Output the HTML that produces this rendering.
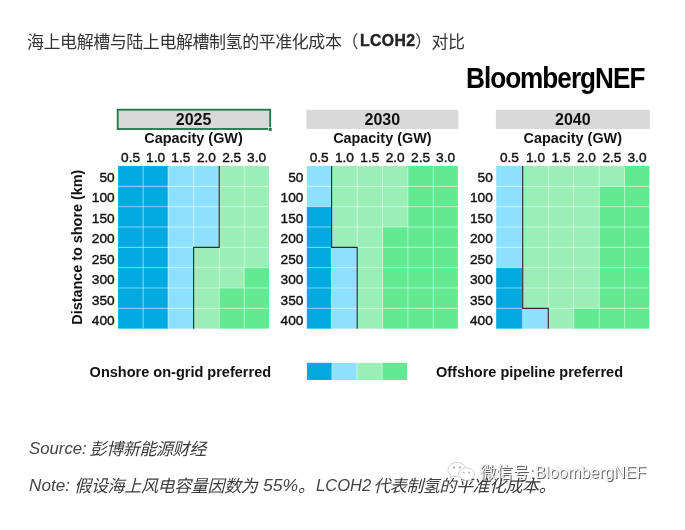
<!DOCTYPE html>
<html lang="zh-CN">
<head>
<meta charset="utf-8">
<title>海上电解槽与陆上电解槽制氢的平准化成本（LCOH2）对比</title>
<style>
html,body{margin:0;padding:0;background:#fff;}
body{width:685px;height:530px;position:relative;overflow:hidden;font-family:"Liberation Sans","Noto Sans CJK SC",sans-serif;}
.title{position:absolute;left:27px;top:30.5px;font-size:17px;line-height:24px;color:#333;white-space:nowrap;letter-spacing:-0.45px;font-family:"Liberation Sans","Noto Sans CJK SC",sans-serif;}
.title b{font-weight:bold;color:#222;font-size:15.8px;letter-spacing:0.35px;margin-left:2.1px;margin-right:-0.4px;-webkit-text-stroke:0.4px #222;position:relative;top:-1.8px;}
.logo{position:absolute;left:465.6px;top:59.5px;font-size:28.7px;line-height:36px;font-weight:bold;color:#000;letter-spacing:-1.1px;white-space:nowrap;transform-origin:0 0;transform:scaleX(0.912);}
svg text{font-family:"Liberation Sans",sans-serif;fill:#111;}
svg .y{font-size:16px;font-weight:bold;}
svg .h{font-size:14.4px;font-weight:bold;}
svg .t{font-size:13.7px;stroke:#111;stroke-width:0.4px;}
svg .lg{font-size:14.5px;font-weight:bold;}
.src{position:absolute;left:29.2px;font-size:17px;line-height:24px;color:#3a3a3a;font-style:italic;white-space:nowrap;letter-spacing:-0.45px;}
.src span{display:inline-block;position:relative;}
.src .l{font-size:15.6px;top:-1.4px;letter-spacing:0;color:#444;transform-origin:0 50%;}
.wm{position:absolute;left:480px;top:461.5px;word-spacing:-3.6px;letter-spacing:0.15px;font-size:16px;line-height:22px;color:#fbfbfb;white-space:nowrap;text-shadow:0.9px 0.9px 0.6px rgba(50,50,50,.8),0 0 1px rgba(90,90,90,.45);font-family:"Liberation Sans","Noto Sans CJK SC",sans-serif;}
.wm .c{font-size:16px;letter-spacing:0.5px;}
.wmi{position:absolute;left:444px;top:458px;}
</style>
</head>
<body>
<div class="title">海上电解槽与陆上电解槽制氢的平准化成本（<b>LCOH2</b>）对比</div>
<div class="logo">BloombergNEF</div>
<svg width="685" height="530" viewBox="0 0 685 530" style="position:absolute;left:0;top:0">
<rect x="117.70" y="109.7" width="152.50" height="19.3" fill="#D9D9D9" stroke="#217346" stroke-width="1.8"/>
<rect x="268.40" y="127.6" width="3.6" height="3.6" fill="#217346" stroke="#fff" stroke-width="0.6"/>
<text x="193.55" y="125.4" class="y" text-anchor="middle">2025</text>
<text x="193.55" y="143.1" class="h" text-anchor="middle">Capacity (GW)</text>
<text x="130.60" y="161.9" class="t" text-anchor="middle">0.5</text>
<text x="155.55" y="161.9" class="t" text-anchor="middle">1.0</text>
<text x="180.80" y="161.9" class="t" text-anchor="middle">1.5</text>
<text x="206.40" y="161.9" class="t" text-anchor="middle">2.0</text>
<text x="231.70" y="161.9" class="t" text-anchor="middle">2.5</text>
<text x="256.60" y="161.9" class="t" text-anchor="middle">3.0</text>
<text x="114.70" y="181.80" class="t" text-anchor="end">50</text>
<text x="114.70" y="202.25" class="t" text-anchor="end">100</text>
<text x="114.70" y="222.70" class="t" text-anchor="end">150</text>
<text x="114.70" y="243.15" class="t" text-anchor="end">200</text>
<text x="114.70" y="263.60" class="t" text-anchor="end">250</text>
<text x="114.70" y="284.05" class="t" text-anchor="end">300</text>
<text x="114.70" y="304.50" class="t" text-anchor="end">350</text>
<text x="114.70" y="324.95" class="t" text-anchor="end">400</text>
<rect x="118.10" y="166.00" width="25.30" height="20.63" fill="#00A9E0"/>
<rect x="143.10" y="166.00" width="25.20" height="20.63" fill="#00A9E0"/>
<rect x="168.00" y="166.00" width="25.90" height="20.63" fill="#8DE1FF"/>
<rect x="193.60" y="166.00" width="25.90" height="20.63" fill="#8DE1FF"/>
<rect x="219.20" y="166.00" width="25.30" height="20.63" fill="#9AEEB6"/>
<rect x="244.20" y="166.00" width="24.80" height="20.63" fill="#9AEEB6"/>
<rect x="118.10" y="186.33" width="25.30" height="20.63" fill="#00A9E0"/>
<rect x="143.10" y="186.33" width="25.20" height="20.63" fill="#00A9E0"/>
<rect x="168.00" y="186.33" width="25.90" height="20.63" fill="#8DE1FF"/>
<rect x="193.60" y="186.33" width="25.90" height="20.63" fill="#8DE1FF"/>
<rect x="219.20" y="186.33" width="25.30" height="20.63" fill="#9AEEB6"/>
<rect x="244.20" y="186.33" width="24.80" height="20.63" fill="#9AEEB6"/>
<rect x="118.10" y="206.66" width="25.30" height="20.63" fill="#00A9E0"/>
<rect x="143.10" y="206.66" width="25.20" height="20.63" fill="#00A9E0"/>
<rect x="168.00" y="206.66" width="25.90" height="20.63" fill="#8DE1FF"/>
<rect x="193.60" y="206.66" width="25.90" height="20.63" fill="#8DE1FF"/>
<rect x="219.20" y="206.66" width="25.30" height="20.63" fill="#9AEEB6"/>
<rect x="244.20" y="206.66" width="24.80" height="20.63" fill="#9AEEB6"/>
<rect x="118.10" y="226.99" width="25.30" height="20.63" fill="#00A9E0"/>
<rect x="143.10" y="226.99" width="25.20" height="20.63" fill="#00A9E0"/>
<rect x="168.00" y="226.99" width="25.90" height="20.63" fill="#8DE1FF"/>
<rect x="193.60" y="226.99" width="25.90" height="20.63" fill="#8DE1FF"/>
<rect x="219.20" y="226.99" width="25.30" height="20.63" fill="#9AEEB6"/>
<rect x="244.20" y="226.99" width="24.80" height="20.63" fill="#9AEEB6"/>
<rect x="118.10" y="247.32" width="25.30" height="20.63" fill="#00A9E0"/>
<rect x="143.10" y="247.32" width="25.20" height="20.63" fill="#00A9E0"/>
<rect x="168.00" y="247.32" width="25.90" height="20.63" fill="#8DE1FF"/>
<rect x="193.60" y="247.32" width="25.90" height="20.63" fill="#9AEEB6"/>
<rect x="219.20" y="247.32" width="25.30" height="20.63" fill="#9AEEB6"/>
<rect x="244.20" y="247.32" width="24.80" height="20.63" fill="#9AEEB6"/>
<rect x="118.10" y="267.65" width="25.30" height="20.63" fill="#00A9E0"/>
<rect x="143.10" y="267.65" width="25.20" height="20.63" fill="#00A9E0"/>
<rect x="168.00" y="267.65" width="25.90" height="20.63" fill="#8DE1FF"/>
<rect x="193.60" y="267.65" width="25.90" height="20.63" fill="#9AEEB6"/>
<rect x="219.20" y="267.65" width="25.30" height="20.63" fill="#9AEEB6"/>
<rect x="244.20" y="267.65" width="24.80" height="20.63" fill="#62E991"/>
<rect x="118.10" y="287.98" width="25.30" height="20.63" fill="#00A9E0"/>
<rect x="143.10" y="287.98" width="25.20" height="20.63" fill="#00A9E0"/>
<rect x="168.00" y="287.98" width="25.90" height="20.63" fill="#8DE1FF"/>
<rect x="193.60" y="287.98" width="25.90" height="20.63" fill="#9AEEB6"/>
<rect x="219.20" y="287.98" width="25.30" height="20.63" fill="#62E991"/>
<rect x="244.20" y="287.98" width="24.80" height="20.63" fill="#62E991"/>
<rect x="118.10" y="308.31" width="25.30" height="20.33" fill="#00A9E0"/>
<rect x="143.10" y="308.31" width="25.20" height="20.33" fill="#00A9E0"/>
<rect x="168.00" y="308.31" width="25.90" height="20.33" fill="#8DE1FF"/>
<rect x="193.60" y="308.31" width="25.90" height="20.33" fill="#9AEEB6"/>
<rect x="219.20" y="308.31" width="25.30" height="20.33" fill="#62E991"/>
<rect x="244.20" y="308.31" width="24.80" height="20.33" fill="#62E991"/>
<line x1="143.10" x2="143.10" y1="166.0" y2="328.64" stroke="#fff" stroke-opacity="0.5" stroke-width="1"/>
<line x1="168.00" x2="168.00" y1="166.0" y2="328.64" stroke="#fff" stroke-opacity="0.5" stroke-width="1"/>
<line x1="193.60" x2="193.60" y1="166.0" y2="328.64" stroke="#fff" stroke-opacity="0.5" stroke-width="1"/>
<line x1="219.20" x2="219.20" y1="166.0" y2="328.64" stroke="#fff" stroke-opacity="0.5" stroke-width="1"/>
<line x1="244.20" x2="244.20" y1="166.0" y2="328.64" stroke="#fff" stroke-opacity="0.5" stroke-width="1"/>
<line y1="186.33" y2="186.33" x1="118.1" x2="269.00" stroke="#fff" stroke-opacity="0.5" stroke-width="1"/>
<line y1="206.66" y2="206.66" x1="118.1" x2="269.00" stroke="#fff" stroke-opacity="0.5" stroke-width="1"/>
<line y1="226.99" y2="226.99" x1="118.1" x2="269.00" stroke="#fff" stroke-opacity="0.5" stroke-width="1"/>
<line y1="247.32" y2="247.32" x1="118.1" x2="269.00" stroke="#fff" stroke-opacity="0.5" stroke-width="1"/>
<line y1="267.65" y2="267.65" x1="118.1" x2="269.00" stroke="#fff" stroke-opacity="0.5" stroke-width="1"/>
<line y1="287.98" y2="287.98" x1="118.1" x2="269.00" stroke="#fff" stroke-opacity="0.5" stroke-width="1"/>
<line y1="308.31" y2="308.31" x1="118.1" x2="269.00" stroke="#fff" stroke-opacity="0.5" stroke-width="1"/>
<polyline points="219.20,166.00 219.20,247.32 193.60,247.32 193.60,328.64" fill="none" stroke="#2b2b2b" stroke-width="1.15"/>
<rect x="306.40" y="109.8" width="151.90" height="19.2" fill="#D9D9D9"/>
<text x="382.35" y="125.4" class="y" text-anchor="middle">2030</text>
<text x="382.35" y="143.1" class="h" text-anchor="middle">Capacity (GW)</text>
<text x="319.20" y="161.9" class="t" text-anchor="middle">0.5</text>
<text x="344.40" y="161.9" class="t" text-anchor="middle">1.0</text>
<text x="369.85" y="161.9" class="t" text-anchor="middle">1.5</text>
<text x="395.20" y="161.9" class="t" text-anchor="middle">2.0</text>
<text x="420.60" y="161.9" class="t" text-anchor="middle">2.5</text>
<text x="445.60" y="161.9" class="t" text-anchor="middle">3.0</text>
<text x="303.40" y="181.80" class="t" text-anchor="end">50</text>
<text x="303.40" y="202.25" class="t" text-anchor="end">100</text>
<text x="303.40" y="222.70" class="t" text-anchor="end">150</text>
<text x="303.40" y="243.15" class="t" text-anchor="end">200</text>
<text x="303.40" y="263.60" class="t" text-anchor="end">250</text>
<text x="303.40" y="284.05" class="t" text-anchor="end">300</text>
<text x="303.40" y="304.50" class="t" text-anchor="end">350</text>
<text x="303.40" y="324.95" class="t" text-anchor="end">400</text>
<rect x="306.80" y="166.00" width="25.10" height="20.63" fill="#8DE1FF"/>
<rect x="331.60" y="166.00" width="25.90" height="20.63" fill="#9AEEB6"/>
<rect x="357.20" y="166.00" width="25.60" height="20.63" fill="#9AEEB6"/>
<rect x="382.50" y="166.00" width="25.70" height="20.63" fill="#9AEEB6"/>
<rect x="407.90" y="166.00" width="25.70" height="20.63" fill="#62E991"/>
<rect x="433.30" y="166.00" width="24.60" height="20.63" fill="#62E991"/>
<rect x="306.80" y="186.33" width="25.10" height="20.63" fill="#8DE1FF"/>
<rect x="331.60" y="186.33" width="25.90" height="20.63" fill="#9AEEB6"/>
<rect x="357.20" y="186.33" width="25.60" height="20.63" fill="#9AEEB6"/>
<rect x="382.50" y="186.33" width="25.70" height="20.63" fill="#9AEEB6"/>
<rect x="407.90" y="186.33" width="25.70" height="20.63" fill="#62E991"/>
<rect x="433.30" y="186.33" width="24.60" height="20.63" fill="#62E991"/>
<rect x="306.80" y="206.66" width="25.10" height="20.63" fill="#00A9E0"/>
<rect x="331.60" y="206.66" width="25.90" height="20.63" fill="#9AEEB6"/>
<rect x="357.20" y="206.66" width="25.60" height="20.63" fill="#9AEEB6"/>
<rect x="382.50" y="206.66" width="25.70" height="20.63" fill="#9AEEB6"/>
<rect x="407.90" y="206.66" width="25.70" height="20.63" fill="#62E991"/>
<rect x="433.30" y="206.66" width="24.60" height="20.63" fill="#62E991"/>
<rect x="306.80" y="226.99" width="25.10" height="20.63" fill="#00A9E0"/>
<rect x="331.60" y="226.99" width="25.90" height="20.63" fill="#9AEEB6"/>
<rect x="357.20" y="226.99" width="25.60" height="20.63" fill="#9AEEB6"/>
<rect x="382.50" y="226.99" width="25.70" height="20.63" fill="#62E991"/>
<rect x="407.90" y="226.99" width="25.70" height="20.63" fill="#62E991"/>
<rect x="433.30" y="226.99" width="24.60" height="20.63" fill="#62E991"/>
<rect x="306.80" y="247.32" width="25.10" height="20.63" fill="#00A9E0"/>
<rect x="331.60" y="247.32" width="25.90" height="20.63" fill="#8DE1FF"/>
<rect x="357.20" y="247.32" width="25.60" height="20.63" fill="#9AEEB6"/>
<rect x="382.50" y="247.32" width="25.70" height="20.63" fill="#62E991"/>
<rect x="407.90" y="247.32" width="25.70" height="20.63" fill="#62E991"/>
<rect x="433.30" y="247.32" width="24.60" height="20.63" fill="#62E991"/>
<rect x="306.80" y="267.65" width="25.10" height="20.63" fill="#00A9E0"/>
<rect x="331.60" y="267.65" width="25.90" height="20.63" fill="#8DE1FF"/>
<rect x="357.20" y="267.65" width="25.60" height="20.63" fill="#9AEEB6"/>
<rect x="382.50" y="267.65" width="25.70" height="20.63" fill="#62E991"/>
<rect x="407.90" y="267.65" width="25.70" height="20.63" fill="#62E991"/>
<rect x="433.30" y="267.65" width="24.60" height="20.63" fill="#62E991"/>
<rect x="306.80" y="287.98" width="25.10" height="20.63" fill="#00A9E0"/>
<rect x="331.60" y="287.98" width="25.90" height="20.63" fill="#8DE1FF"/>
<rect x="357.20" y="287.98" width="25.60" height="20.63" fill="#9AEEB6"/>
<rect x="382.50" y="287.98" width="25.70" height="20.63" fill="#62E991"/>
<rect x="407.90" y="287.98" width="25.70" height="20.63" fill="#62E991"/>
<rect x="433.30" y="287.98" width="24.60" height="20.63" fill="#62E991"/>
<rect x="306.80" y="308.31" width="25.10" height="20.33" fill="#00A9E0"/>
<rect x="331.60" y="308.31" width="25.90" height="20.33" fill="#8DE1FF"/>
<rect x="357.20" y="308.31" width="25.60" height="20.33" fill="#9AEEB6"/>
<rect x="382.50" y="308.31" width="25.70" height="20.33" fill="#62E991"/>
<rect x="407.90" y="308.31" width="25.70" height="20.33" fill="#62E991"/>
<rect x="433.30" y="308.31" width="24.60" height="20.33" fill="#62E991"/>
<line x1="331.60" x2="331.60" y1="166.0" y2="328.64" stroke="#fff" stroke-opacity="0.5" stroke-width="1"/>
<line x1="357.20" x2="357.20" y1="166.0" y2="328.64" stroke="#fff" stroke-opacity="0.5" stroke-width="1"/>
<line x1="382.50" x2="382.50" y1="166.0" y2="328.64" stroke="#fff" stroke-opacity="0.5" stroke-width="1"/>
<line x1="407.90" x2="407.90" y1="166.0" y2="328.64" stroke="#fff" stroke-opacity="0.5" stroke-width="1"/>
<line x1="433.30" x2="433.30" y1="166.0" y2="328.64" stroke="#fff" stroke-opacity="0.5" stroke-width="1"/>
<line y1="186.33" y2="186.33" x1="306.8" x2="457.90" stroke="#fff" stroke-opacity="0.5" stroke-width="1"/>
<line y1="206.66" y2="206.66" x1="306.8" x2="457.90" stroke="#fff" stroke-opacity="0.5" stroke-width="1"/>
<line y1="226.99" y2="226.99" x1="306.8" x2="457.90" stroke="#fff" stroke-opacity="0.5" stroke-width="1"/>
<line y1="247.32" y2="247.32" x1="306.8" x2="457.90" stroke="#fff" stroke-opacity="0.5" stroke-width="1"/>
<line y1="267.65" y2="267.65" x1="306.8" x2="457.90" stroke="#fff" stroke-opacity="0.5" stroke-width="1"/>
<line y1="287.98" y2="287.98" x1="306.8" x2="457.90" stroke="#fff" stroke-opacity="0.5" stroke-width="1"/>
<line y1="308.31" y2="308.31" x1="306.8" x2="457.90" stroke="#fff" stroke-opacity="0.5" stroke-width="1"/>
<polyline points="331.60,166.00 331.60,247.32 357.20,247.32 357.20,328.64" fill="none" stroke="#2b2b2b" stroke-width="1.15"/>
<rect x="495.80" y="109.8" width="154.00" height="19.2" fill="#D9D9D9"/>
<text x="572.80" y="125.4" class="y" text-anchor="middle">2040</text>
<text x="572.80" y="143.1" class="h" text-anchor="middle">Capacity (GW)</text>
<text x="509.45" y="161.9" class="t" text-anchor="middle">0.5</text>
<text x="535.50" y="161.9" class="t" text-anchor="middle">1.0</text>
<text x="561.00" y="161.9" class="t" text-anchor="middle">1.5</text>
<text x="586.45" y="161.9" class="t" text-anchor="middle">2.0</text>
<text x="611.90" y="161.9" class="t" text-anchor="middle">2.5</text>
<text x="637.00" y="161.9" class="t" text-anchor="middle">3.0</text>
<text x="492.80" y="181.80" class="t" text-anchor="end">50</text>
<text x="492.80" y="202.25" class="t" text-anchor="end">100</text>
<text x="492.80" y="222.70" class="t" text-anchor="end">150</text>
<text x="492.80" y="243.15" class="t" text-anchor="end">200</text>
<text x="492.80" y="263.60" class="t" text-anchor="end">250</text>
<text x="492.80" y="284.05" class="t" text-anchor="end">300</text>
<text x="492.80" y="304.50" class="t" text-anchor="end">350</text>
<text x="492.80" y="324.95" class="t" text-anchor="end">400</text>
<rect x="496.20" y="166.00" width="26.80" height="20.63" fill="#8DE1FF"/>
<rect x="522.70" y="166.00" width="25.90" height="20.63" fill="#9AEEB6"/>
<rect x="548.30" y="166.00" width="25.70" height="20.63" fill="#9AEEB6"/>
<rect x="573.70" y="166.00" width="25.80" height="20.63" fill="#9AEEB6"/>
<rect x="599.20" y="166.00" width="25.70" height="20.63" fill="#9AEEB6"/>
<rect x="624.60" y="166.00" width="24.80" height="20.63" fill="#62E991"/>
<rect x="496.20" y="186.33" width="26.80" height="20.63" fill="#8DE1FF"/>
<rect x="522.70" y="186.33" width="25.90" height="20.63" fill="#9AEEB6"/>
<rect x="548.30" y="186.33" width="25.70" height="20.63" fill="#9AEEB6"/>
<rect x="573.70" y="186.33" width="25.80" height="20.63" fill="#9AEEB6"/>
<rect x="599.20" y="186.33" width="25.70" height="20.63" fill="#62E991"/>
<rect x="624.60" y="186.33" width="24.80" height="20.63" fill="#62E991"/>
<rect x="496.20" y="206.66" width="26.80" height="20.63" fill="#8DE1FF"/>
<rect x="522.70" y="206.66" width="25.90" height="20.63" fill="#9AEEB6"/>
<rect x="548.30" y="206.66" width="25.70" height="20.63" fill="#9AEEB6"/>
<rect x="573.70" y="206.66" width="25.80" height="20.63" fill="#9AEEB6"/>
<rect x="599.20" y="206.66" width="25.70" height="20.63" fill="#62E991"/>
<rect x="624.60" y="206.66" width="24.80" height="20.63" fill="#62E991"/>
<rect x="496.20" y="226.99" width="26.80" height="20.63" fill="#8DE1FF"/>
<rect x="522.70" y="226.99" width="25.90" height="20.63" fill="#9AEEB6"/>
<rect x="548.30" y="226.99" width="25.70" height="20.63" fill="#9AEEB6"/>
<rect x="573.70" y="226.99" width="25.80" height="20.63" fill="#9AEEB6"/>
<rect x="599.20" y="226.99" width="25.70" height="20.63" fill="#62E991"/>
<rect x="624.60" y="226.99" width="24.80" height="20.63" fill="#62E991"/>
<rect x="496.20" y="247.32" width="26.80" height="20.63" fill="#8DE1FF"/>
<rect x="522.70" y="247.32" width="25.90" height="20.63" fill="#9AEEB6"/>
<rect x="548.30" y="247.32" width="25.70" height="20.63" fill="#9AEEB6"/>
<rect x="573.70" y="247.32" width="25.80" height="20.63" fill="#9AEEB6"/>
<rect x="599.20" y="247.32" width="25.70" height="20.63" fill="#62E991"/>
<rect x="624.60" y="247.32" width="24.80" height="20.63" fill="#62E991"/>
<rect x="496.20" y="267.65" width="26.80" height="20.63" fill="#00A9E0"/>
<rect x="522.70" y="267.65" width="25.90" height="20.63" fill="#9AEEB6"/>
<rect x="548.30" y="267.65" width="25.70" height="20.63" fill="#9AEEB6"/>
<rect x="573.70" y="267.65" width="25.80" height="20.63" fill="#9AEEB6"/>
<rect x="599.20" y="267.65" width="25.70" height="20.63" fill="#62E991"/>
<rect x="624.60" y="267.65" width="24.80" height="20.63" fill="#62E991"/>
<rect x="496.20" y="287.98" width="26.80" height="20.63" fill="#00A9E0"/>
<rect x="522.70" y="287.98" width="25.90" height="20.63" fill="#9AEEB6"/>
<rect x="548.30" y="287.98" width="25.70" height="20.63" fill="#9AEEB6"/>
<rect x="573.70" y="287.98" width="25.80" height="20.63" fill="#9AEEB6"/>
<rect x="599.20" y="287.98" width="25.70" height="20.63" fill="#62E991"/>
<rect x="624.60" y="287.98" width="24.80" height="20.63" fill="#62E991"/>
<rect x="496.20" y="308.31" width="26.80" height="20.33" fill="#00A9E0"/>
<rect x="522.70" y="308.31" width="25.90" height="20.33" fill="#8DE1FF"/>
<rect x="548.30" y="308.31" width="25.70" height="20.33" fill="#9AEEB6"/>
<rect x="573.70" y="308.31" width="25.80" height="20.33" fill="#62E991"/>
<rect x="599.20" y="308.31" width="25.70" height="20.33" fill="#62E991"/>
<rect x="624.60" y="308.31" width="24.80" height="20.33" fill="#62E991"/>
<line x1="522.70" x2="522.70" y1="166.0" y2="328.64" stroke="#fff" stroke-opacity="0.5" stroke-width="1"/>
<line x1="548.30" x2="548.30" y1="166.0" y2="328.64" stroke="#fff" stroke-opacity="0.5" stroke-width="1"/>
<line x1="573.70" x2="573.70" y1="166.0" y2="328.64" stroke="#fff" stroke-opacity="0.5" stroke-width="1"/>
<line x1="599.20" x2="599.20" y1="166.0" y2="328.64" stroke="#fff" stroke-opacity="0.5" stroke-width="1"/>
<line x1="624.60" x2="624.60" y1="166.0" y2="328.64" stroke="#fff" stroke-opacity="0.5" stroke-width="1"/>
<line y1="186.33" y2="186.33" x1="496.2" x2="649.40" stroke="#fff" stroke-opacity="0.5" stroke-width="1"/>
<line y1="206.66" y2="206.66" x1="496.2" x2="649.40" stroke="#fff" stroke-opacity="0.5" stroke-width="1"/>
<line y1="226.99" y2="226.99" x1="496.2" x2="649.40" stroke="#fff" stroke-opacity="0.5" stroke-width="1"/>
<line y1="247.32" y2="247.32" x1="496.2" x2="649.40" stroke="#fff" stroke-opacity="0.5" stroke-width="1"/>
<line y1="267.65" y2="267.65" x1="496.2" x2="649.40" stroke="#fff" stroke-opacity="0.5" stroke-width="1"/>
<line y1="287.98" y2="287.98" x1="496.2" x2="649.40" stroke="#fff" stroke-opacity="0.5" stroke-width="1"/>
<line y1="308.31" y2="308.31" x1="496.2" x2="649.40" stroke="#fff" stroke-opacity="0.5" stroke-width="1"/>
<polyline points="522.70,166.00 522.70,308.31 548.30,308.31 548.30,328.64" fill="none" stroke="#2b2b2b" stroke-width="1.15"/>
<text class="h" text-anchor="middle" transform="translate(81.6,247.2) rotate(-90)">Distance to shore (km)</text>
<text class="lg" x="89.6" y="377" textLength="181.5" lengthAdjust="spacingAndGlyphs">Onshore on-grid preferred</text>
<text class="lg" x="436" y="377" textLength="187" lengthAdjust="spacingAndGlyphs">Offshore pipeline preferred</text>
<rect x="306.90" y="362.8" width="25.35" height="17.2" fill="#00A9E0"/>
<rect x="331.95" y="362.8" width="25.35" height="17.2" fill="#8DE1FF"/>
<rect x="357.00" y="362.8" width="25.35" height="17.2" fill="#9AEEB6"/>
<rect x="382.05" y="362.8" width="25.05" height="17.2" fill="#62E991"/>
<line x1="331.95" x2="331.95" y1="362.8" y2="380" stroke="#fff" stroke-opacity="0.5" stroke-width="1"/>
<line x1="357.00" x2="357.00" y1="362.8" y2="380" stroke="#fff" stroke-opacity="0.5" stroke-width="1"/>
<line x1="382.05" x2="382.05" y1="362.8" y2="380" stroke="#fff" stroke-opacity="0.5" stroke-width="1"/>
</svg>
<div class="src" style="top:438px"><span class="l" style="transform:scaleX(1.075);margin-right:2.1px">Source:</span> <span style="letter-spacing:-0.4px;margin-left:0.3px">彭博新能源财经</span></div>
<div class="src" style="top:475.4px"><span class="l" style="transform:scaleX(1.1);margin-right:3.5px">Note:</span> <span style="letter-spacing:-0.35px;margin-left:0.05px">假设海上风电容量因数为</span> <span class="l" style="transform:scaleX(1.13);margin-left:1.2px;margin-right:4.1px">55%</span><span style="margin-left:-0.3px">。</span><span class="l" style="transform:scaleX(1.06);margin-left:1px;margin-right:3.7px">LCOH2</span> <span style="margin-left:-2.3px">代表制氢的平准化成本。</span></div>
<svg class="wmi" width="36" height="26" viewBox="0 0 36 26">
<g fill="#fff" stroke="#b5b5b5" stroke-width="0.6">
<path d="M13 4.5c-5 0-9 3.2-9 7.2 0 2.2 1.2 4.1 3.2 5.5l-0.9 2.6 3.1-1.6c1.1 0.4 2.3 0.6 3.6 0.6 5 0 9-3.2 9-7.1 0-4-4-7.2-9-7.2z"/>
<path d="M22.5 9.8c-4.4 0-7.9 2.8-7.9 6.3s3.500 6.300 7.900 6.300c1 0 1.900-0.100 2.800-0.400l2.600 1.400-0.700-2.200c1.900-1.200 3.200-3 3.200-5.100 0-3.500-3.500-6.300-7.900-6.300z"/>
</g>
<g fill="#a8a8a8"><circle cx="10" cy="9.500" r="1.100"/><circle cx="15.800" cy="9.500" r="1.100"/><circle cx="19.800" cy="14.600" r="0.900"/><circle cx="25" cy="14.600" r="0.900"/></g>
</svg>
<div class="wm"><span class="c">微信号</span>: BloombergNEF</div>
</body>
</html>
